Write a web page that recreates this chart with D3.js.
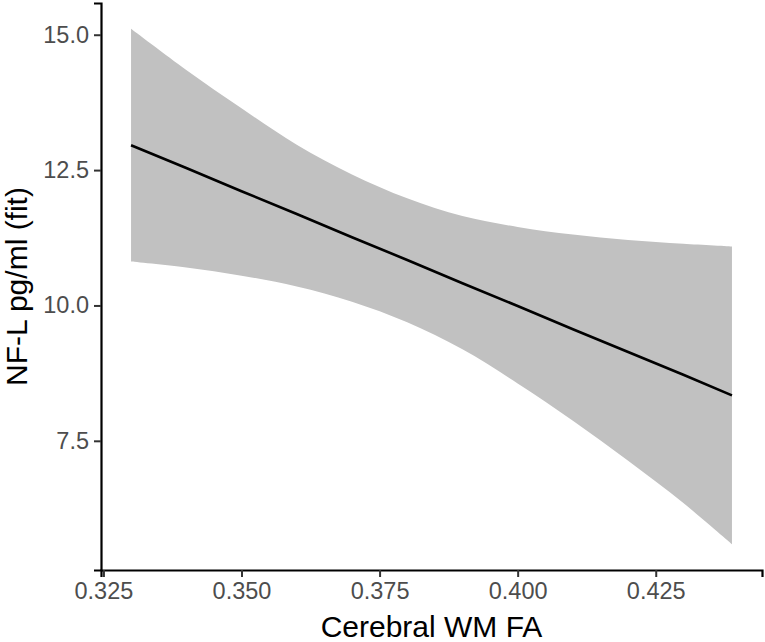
<!DOCTYPE html>
<html>
<head>
<meta charset="utf-8">
<script src="https://cdn.jsdelivr.net/npm/d3@7"></script>
<style>
  body{margin:0;background:#fff;}
  text{font-family:"Liberation Sans",Arial,sans-serif;}
</style>
</head>
<body>
<div class="canvas"></div>
<script>
// values
const fa=[0.330,0.340,0.350,0.360,0.370,0.380,0.390,0.400,0.410,0.420,0.430,0.4388];
const fit=[12.96,12.54,12.11,11.69,11.26,10.84,10.41,9.99,9.56,9.14,8.72,8.34];
const upper=[15.11,14.35,13.64,12.97,12.42,11.98,11.65,11.45,11.31,11.21,11.14,11.09];
const lower=[10.81,10.70,10.55,10.35,10.07,9.69,9.19,8.56,7.87,7.13,6.35,5.59];
const xTicks=[0.325,0.350,0.375,0.400,0.425];
const yTicks=[7.5,10.0,12.5,15.0];

const width=765,height=642;
const margin={left:101,top:3,right:3,bottom:72};
const graphWidth=width-margin.left-margin.right;
const graphHeight=height-margin.top-margin.bottom;

const svg=d3.select('.canvas').append('svg')
.attr('width',width)
.attr('height',height);

const graph=svg.append('g')
.attr('transform',`translate(${margin.left},${margin.top})`);

const data=fa.map((d,i)=>({x:d,fit:fit[i],lo:lower[i],hi:upper[i]}));

// ggplot style 5% expansion
const xr=d3.extent(fa);
const xPad=(xr[1]-xr[0])*0.05;
const yr=[d3.min(lower),d3.max(upper)];
const yPad=(yr[1]-yr[0])*0.05;

const x=d3.scaleLinear()
.domain([xr[0]-xPad,xr[1]+xPad])
.range([0,graphWidth]);

const y=d3.scaleLinear()
.domain([yr[0]-yPad,yr[1]+yPad])
.range([graphHeight,0]);

// confidence band
const band=d3.area()
.x(d=>x(d.x))
.y0(d=>y(d.lo))
.y1(d=>y(d.hi))
.curve(d3.curveCatmullRom);

graph.append('path')
.datum(data)
.attr('d',band)
.attr('fill','#c1c1c1');

// fitted line
const line=d3.line()
.x(d=>x(d.x))
.y(d=>y(d.fit));

graph.append('path')
.datum(data)
.attr('d',line)
.attr('fill','none')
.attr('stroke','#000')
.attr('stroke-width',2.6);

// axes
const xAxis=d3.axisBottom(x).tickValues(xTicks).tickFormat(d3.format('.3f')).tickSizeOuter(0).tickSize(7).tickPadding(5);
const yAxis=d3.axisLeft(y).tickValues(yTicks).tickFormat(d3.format('.1f')).tickSizeOuter(0).tickSize(7).tickPadding(5);

const xAxisGroup=graph.append('g')
.attr('transform',`translate(0,${graphHeight})`)
.call(xAxis);
const yAxisGroup=graph.append('g')
.call(yAxis);

[xAxisGroup,yAxisGroup].forEach(g=>{
  g.select('.domain').attr('stroke','#000').attr('stroke-width',2.2);
  g.selectAll('.tick line').attr('stroke','#333').attr('stroke-width',2);
  g.selectAll('.tick text')
  .attr('fill','#4d4d4d')
  .style('font-size','23.5px')
  .style('font-family','"Liberation Sans",Arial,sans-serif');
});

// titles
svg.append('text')
.attr('x',margin.left+graphWidth/2)
.attr('y',637)
.attr('text-anchor','middle')
.style('font-size','30px')
.attr('fill','#000')
.text('Cerebral WM FA');

svg.append('text')
.attr('transform',`translate(27,${margin.top+graphHeight/2}) rotate(-90)`)
.attr('text-anchor','middle')
.style('font-size','30px')
.attr('fill','#000')
.text('NF-L pg/ml (fit)');
</script>
</body>
</html>
